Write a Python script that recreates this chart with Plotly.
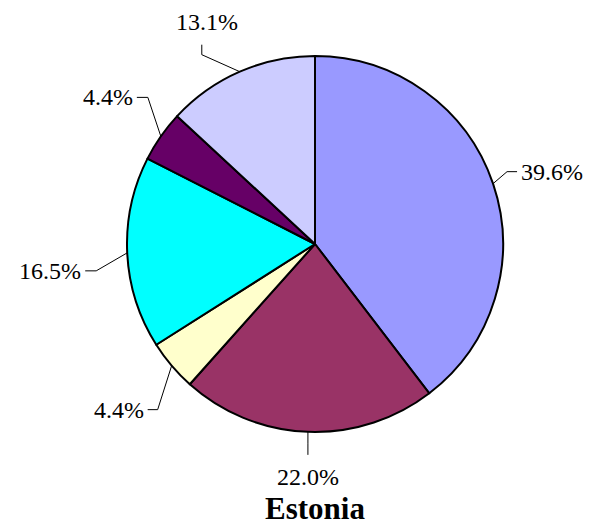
import math
import plotly.graph_objects as go

labels = ["A", "B", "C", "D", "E", "F"]
values = [39.6, 22.0, 4.4, 16.5, 4.4, 13.1]
colors = ["#9999FF", "#993366", "#FFFFCC", "#00FFFF", "#660066", "#CCCCFF"]
title = "Estonia"

W, H = 595, 530
cx, cy, R = 315, 244, 188  # pie centre / radius in px
serif = "Liberation Serif, Times New Roman, serif"

# leader line layout per slice (px): edge -> elbow offset, then tail offset
elbow_off = [(14, -12), (0, 12), (-14, 44), (-31, 18), (-13, -39), (-38, -17)]
tail_off = [(10, 0), (0, 11), (-10, 0), (-11, 0), (-11, 0), (0, -10)]

fig = go.Figure(
    go.Pie(
        labels=labels,
        values=values,
        sort=False,
        direction="clockwise",
        rotation=0,
        textinfo="none",
        hoverinfo="none",
        marker=dict(colors=colors, line=dict(color="black", width=2)),
        domain=dict(
            x=[(cx - R) / W, (cx + R) / W],
            y=[(H - cy - R) / H, (H - cy + R) / H],
        ),
    )
)


def px(x, y):
    return x / W, 1 - y / H


shapes = []
annotations = []
total = sum(values)
cum = 0
for v, eo, to in zip(values, elbow_off, tail_off):
    mid = (cum + v / 2) / total * 2 * math.pi
    cum += v
    sx, sy = cx + R * math.sin(mid), cy - R * math.cos(mid)
    ex, ey = sx + eo[0], sy + eo[1]
    fx, fy = ex + to[0], ey + to[1]
    if to[0] == 0:
        up = to[1] < 0
        tx, ty = fx + (5 if up else 0), fy + (-8 if up else 7)
        xa, ya = "center", ("bottom" if up else "top")
    else:
        right = to[0] > 0
        tx, ty = fx + (2 if right else -2), fy
        xa, ya = ("left" if right else "right"), "middle"
    p = [px(sx, sy), px(ex, ey), px(fx, fy)]
    shapes.append(dict(
        type="path", xref="paper", yref="paper",
        path="M {} {} L {} {} L {} {}".format(p[0][0], p[0][1], p[1][0], p[1][1], p[2][0], p[2][1]),
        line=dict(color="black", width=1),
    ))
    tpx, tpy = px(tx, ty)
    annotations.append(dict(
        x=tpx, y=tpy, xref="paper", yref="paper", showarrow=False,
        text="{:.1f}%".format(v), xanchor=xa, yanchor=ya,
        font=dict(family=serif, size=24, color="black"),
    ))

annotations.append(dict(
    x=cx / W, y=1 - 508 / H, xref="paper", yref="paper", showarrow=False,
    text="<b>" + title + "</b>", xanchor="center", yanchor="middle",
    font=dict(family=serif, size=31, color="black"),
))

fig.update_layout(
    width=W,
    height=H,
    margin=dict(l=0, r=0, t=0, b=0),
    paper_bgcolor="white",
    plot_bgcolor="white",
    showlegend=False,
    shapes=shapes,
    annotations=annotations,
)

fig.write_html(
    "out.html",
    config={"displayModeBar": False},
    post_script="document.body.style.margin='0';",
)
